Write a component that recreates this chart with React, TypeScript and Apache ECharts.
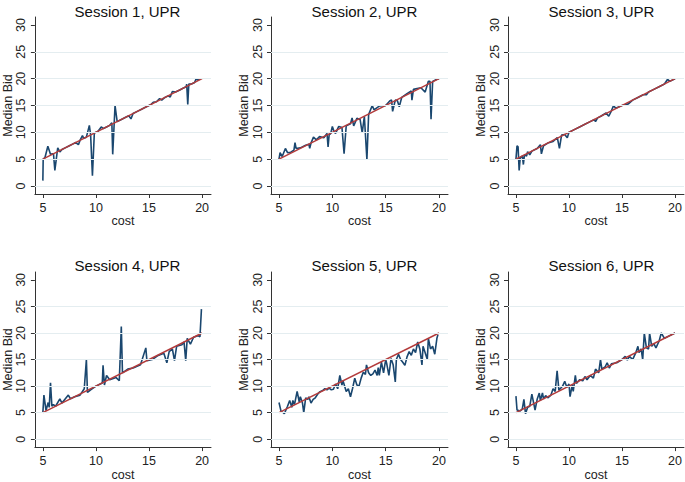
import React, { useEffect, useRef } from 'react';
import * as echarts from 'echarts';

const sessionTitles = ['Session 1, UPR', 'Session 2, UPR', 'Session 3, UPR', 'Session 4, UPR', 'Session 5, UPR', 'Session 6, UPR'];

const s1Cost = [5.0, 5.03, 5.2, 5.47, 5.72, 5.9, 6.0, 6.13, 6.4, 6.6, 6.8, 7.1, 7.5, 7.8, 8.1, 8.35, 8.5, 8.73, 8.85, 9.1, 9.38, 9.5, 9.67, 9.85, 10.2, 10.5, 10.7, 11.0, 11.3, 11.5, 11.58, 11.8, 12.0, 12.4, 12.8, 13.1, 13.3, 13.5, 13.9, 14.3, 14.8, 15.2, 15.4, 15.7, 16.0, 16.2, 16.5, 16.8, 17.0, 17.2, 17.5, 17.9, 18.2, 18.5, 18.55, 18.65, 18.75, 19.0, 19.3, 19.45, 19.6, 19.8, 19.9];
const s1Bid = [1.0, 5.0, 5.3, 7.4, 5.9, 6.0, 6.0, 2.9, 7.1, 6.35, 6.8, 7.1, 7.5, 7.8, 8.1, 7.7, 8.5, 9.4, 8.9, 9.1, 11.3, 9.5, 1.9, 9.9, 10.2, 11.0, 10.7, 11.0, 11.3, 11.8, 5.9, 15.0, 12.0, 12.4, 12.8, 13.1, 12.5, 13.5, 13.9, 14.3, 14.8, 15.2, 15.6, 15.7, 16.3, 16.0, 16.5, 16.8, 16.6, 17.6, 17.5, 17.9, 18.2, 18.5, 19.0, 15.2, 19.0, 19.0, 19.3, 20.0, 19.7, 20.0, 19.9];

const s2Cost = [5.0, 5.1, 5.3, 5.6, 5.8, 6.1, 6.4, 6.5, 6.6, 7.0, 7.5, 7.8, 7.88, 8.0, 8.23, 8.5, 8.8, 9.2, 9.5, 9.6, 9.7, 9.85, 10.0, 10.15, 10.3, 10.6, 10.9, 11.1, 11.3, 11.7, 11.85, 12.0, 12.3, 12.6, 12.8, 13.0, 13.24, 13.4, 13.74, 13.9, 14.4, 15.0, 15.4, 15.55, 15.65, 15.9, 16.1, 16.27, 16.5, 17.0, 17.4, 17.46, 17.6, 18.3, 18.7, 19.0, 19.15, 19.25, 19.4, 19.8, 20.0];
const s2Bid = [5.0, 6.2, 5.5, 7.0, 6.2, 6.3, 6.7, 8.1, 7.0, 7.1, 7.6, 7.8, 7.0, 8.0, 9.1, 8.6, 9.2, 9.0, 9.8, 7.3, 9.5, 9.8, 11.1, 10.2, 9.8, 11.1, 10.9, 6.0, 11.2, 11.6, 12.7, 11.2, 12.6, 12.4, 9.9, 13.0, 4.9, 13.3, 15.0, 14.2, 14.9, 15.0, 15.9, 16.0, 13.9, 16.0, 15.9, 14.75, 16.5, 17.2, 17.7, 16.0, 18.0, 18.3, 17.5, 19.5, 19.5, 12.45, 19.5, 19.9, 20.0];

const s3Cost = [5.0, 5.1, 5.2, 5.3, 5.4, 5.6, 5.7, 5.8, 6.0, 6.1, 6.3, 6.5, 7.0, 7.3, 7.4, 7.6, 8.0, 8.5, 8.9, 9.1, 9.3, 9.6, 9.84, 10.0, 10.5, 11.0, 11.5, 12.0, 12.4, 12.5, 12.7, 13.0, 13.5, 13.75, 14.0, 14.2, 14.4, 15.0, 15.6, 16.0, 16.5, 17.0, 17.3, 17.5, 18.0, 18.5, 19.0, 19.3, 19.5, 20.0];
const s3Bid = [5.0, 7.5, 7.3, 2.9, 5.2, 5.6, 4.0, 5.8, 5.6, 6.4, 5.8, 6.5, 7.0, 7.7, 6.0, 7.5, 8.0, 8.3, 9.0, 7.0, 9.5, 9.6, 9.0, 10.0, 10.5, 11.0, 11.5, 12.0, 12.4, 12.0, 12.7, 13.0, 13.6, 13.0, 14.0, 15.0, 14.5, 15.0, 15.3, 16.0, 16.5, 17.0, 17.0, 17.5, 18.0, 18.5, 19.0, 19.9, 19.5, 20.0];

const s4Cost = [5.0, 5.1, 5.3, 5.5, 5.6, 5.72, 5.85, 6.0, 6.2, 6.6, 6.8, 7.4, 7.6, 8.0, 8.5, 8.9, 9.1, 9.2, 9.5, 10.0, 10.6, 10.67, 10.8, 11.0, 11.3, 11.9, 12.2, 12.39, 12.5, 13.0, 13.5, 14.2, 14.7, 14.8, 15.3, 15.8, 16.4, 16.68, 16.9, 17.2, 17.4, 17.6, 18.1, 18.3, 18.46, 18.6, 18.9, 19.2, 19.6, 19.8, 19.94];
const s4Bid = [5.0, 8.3, 5.4, 6.9, 6.0, 10.6, 6.2, 6.5, 6.2, 7.6, 6.8, 8.3, 7.6, 8.0, 8.3, 9.5, 15.0, 8.8, 9.3, 10.0, 10.6, 13.9, 10.2, 12.0, 11.2, 11.6, 11.0, 21.2, 12.5, 13.2, 13.4, 14.0, 17.2, 14.8, 15.0, 15.7, 16.2, 14.4, 16.5, 17.0, 14.8, 17.5, 17.8, 18.3, 14.8, 19.0, 17.9, 19.2, 19.5, 19.3, 24.5];

const s5Cost = [5.0, 5.2, 5.4, 5.5, 5.8, 6.0, 6.2, 6.3, 6.45, 6.7, 6.9, 7.0, 7.2, 7.32, 7.5, 7.7, 7.8, 8.0, 8.2, 8.4, 8.6, 8.8, 9.1, 9.3, 9.5, 9.7, 9.9, 10.1, 10.3, 10.5, 10.7, 10.9, 11.0, 11.3, 11.5, 11.7, 11.9, 12.1, 12.3, 12.5, 12.7, 12.9, 13.1, 13.2, 13.4, 13.6, 13.8, 14.0, 14.2, 14.3, 14.4, 14.6, 14.8, 15.0, 15.1, 15.3, 15.5, 15.7, 15.9, 16.0, 16.2, 16.4, 16.6, 16.8, 17.0, 17.2, 17.4, 17.6, 17.8, 18.0, 18.2, 18.4, 18.5, 18.7, 18.9, 19.0, 19.2, 19.4, 19.6, 19.8, 19.9];
const s5Bid = [6.9, 5.2, 5.0, 4.8, 6.2, 7.3, 6.0, 7.3, 6.5, 9.0, 7.0, 8.0, 6.8, 5.0, 7.8, 7.5, 8.0, 6.8, 7.5, 7.8, 8.4, 8.9, 9.2, 9.5, 9.3, 9.6, 9.3, 9.4, 10.4, 9.5, 12.0, 10.2, 11.0, 9.0, 9.5, 8.0, 9.6, 11.5, 10.2, 10.0, 11.5, 12.6, 12.2, 14.0, 12.5, 12.0, 12.3, 13.0, 12.0, 13.5, 12.0, 14.5, 12.5, 15.0, 14.2, 12.0, 15.2, 14.0, 10.8, 15.0, 16.0, 15.0, 14.5, 13.9, 15.5, 16.5, 15.8, 17.0, 16.3, 18.3, 17.0, 14.0, 17.5, 16.3, 15.0, 19.0, 17.0, 17.5, 16.0, 19.0, 19.7];

const s6Cost = [5.0, 5.1, 5.4, 5.6, 5.75, 5.9, 6.1, 6.3, 6.5, 6.7, 6.8, 7.0, 7.2, 7.3, 7.5, 7.6, 7.8, 8.0, 8.3, 8.5, 8.7, 8.88, 9.05, 9.4, 9.6, 9.8, 10.0, 10.1, 10.3, 10.4, 10.6, 10.7, 11.0, 11.3, 11.5, 11.7, 12.0, 12.3, 12.5, 12.8, 12.97, 13.1, 13.4, 13.6, 13.8, 14.0, 14.5, 15.0, 15.3, 15.5, 15.7, 16.0, 16.3, 16.5, 16.6, 16.8, 16.95, 17.1, 17.3, 17.5, 17.6, 17.8, 18.0, 18.2, 18.5, 18.7, 19.0, 19.5, 20.0];
const s6Bid = [8.1, 5.5, 5.3, 5.7, 7.5, 4.8, 6.0, 6.2, 8.5, 6.5, 5.5, 7.5, 8.7, 7.3, 8.7, 7.6, 8.2, 7.8, 8.3, 9.5, 9.0, 12.9, 9.2, 10.0, 10.9, 9.8, 10.4, 8.0, 10.2, 9.0, 12.0, 10.5, 11.2, 11.0, 11.8, 11.2, 12.0, 11.5, 13.2, 12.5, 15.0, 13.2, 13.6, 14.4, 13.4, 14.2, 14.4, 15.0, 15.6, 14.9, 15.6, 15.0, 16.3, 17.5, 16.3, 17.0, 15.0, 20.0, 17.2, 17.0, 20.0, 17.5, 18.0, 17.2, 18.5, 20.0, 19.0, 19.5, 20.0];

const fitCost = [5, 20];
const fitBid = [5, 20];

const xTicks = [5, 10, 15, 20];
const yTicks = [0, 5, 10, 15, 20, 25, 30];
const gridValues = [0, 5, 10, 15, 20, 25];

export default function App() {
  const ref = useRef<HTMLDivElement>(null);
  useEffect(() => {
    document.body.style.margin = '0';
    const chart = echarts.init(ref.current!, null, { renderer: 'svg' });
    const sessions = [
      [s1Cost, s1Bid], [s2Cost, s2Bid], [s3Cost, s3Bid],
      [s4Cost, s4Bid], [s5Cost, s5Bid], [s6Cost, s6Bid],
    ];
    const font = "'Liberation Sans', Arial, sans-serif";
    const colLeft = [34, 271, 508];
    const rowTop = [17, 272];
    const gw = 177;
    const gh = 177;
    const grids: any[] = [];
    const xAxes: any[] = [];
    const yAxes: any[] = [];
    const titles: any[] = [];
    const series: any[] = [];
    sessions.forEach((s, i) => {
      const col = i % 3;
      const row = Math.floor(i / 3);
      const left = colLeft[col];
      const top = rowTop[row];
      grids.push({ left, top, width: col === 2 ? gw - 1 : gw, height: gh - (row === 1 ? 1 : 0) });
      titles.push({
        text: sessionTitles[i],
        left: left + gw / 2,
        top: row === 0 ? -1 : 253,
        textAlign: 'center',
        textStyle: { fontFamily: font, fontSize: 15, fontWeight: 'normal', color: '#111' },
      });
      xAxes.push({
        type: 'value', gridIndex: i, min: 4.25, max: 20.84,
        name: 'cost', nameLocation: 'middle', nameGap: 20,
        nameTextStyle: { fontFamily: font, fontSize: 12.5, color: '#222' },
        axisLine: { show: true, onZero: false, lineStyle: { color: '#333', width: 1 } },
        axisTick: { show: true, customValues: xTicks, length: 4, lineStyle: { color: '#333' } },
        axisLabel: { customValues: xTicks, margin: 7, fontFamily: font, fontSize: 12.5, color: '#222' },
        splitLine: { show: false },
      });
      yAxes.push({
        type: 'value', gridIndex: i, min: -1.49, max: 31.49,
        name: 'Median Bid', nameLocation: 'middle', nameGap: 20,
        nameTextStyle: { fontFamily: font, fontSize: 12.5, color: '#222' },
        axisLine: { show: true, onZero: false, lineStyle: { color: '#333', width: 1 } },
        axisTick: { show: true, customValues: yTicks, length: 4, lineStyle: { color: '#333' } },
        axisLabel: { customValues: yTicks, rotate: 90, margin: 7, fontFamily: font, fontSize: 12.5, color: '#222' },
        splitLine: { show: false },
      });
      series.push({
        type: 'line', xAxisIndex: i, yAxisIndex: i, data: [], silent: true, z: 1,
        markLine: {
          silent: true, symbol: ['none', 'none'], label: { show: false },
          lineStyle: { color: '#e4edf0', width: 1, type: 'solid' },
          data: gridValues.map((v) => ({ yAxis: v })),
        },
      });
      series.push({
        type: 'line', xAxisIndex: i, yAxisIndex: i, z: 3,
        data: s[0].map((c, k) => [c, s[1][k]]),
        showSymbol: false, symbol: 'none',
        lineStyle: { color: '#1a476f', width: 1.6 },
      });
      series.push({
        type: 'line', xAxisIndex: i, yAxisIndex: i, z: 4,
        data: fitCost.map((c, k) => [c, fitBid[k]]),
        showSymbol: false, symbol: 'none',
        lineStyle: { color: '#b33b3b', width: 1.5 },
      });
    });
    chart.setOption({
      animation: false,
      backgroundColor: '#ffffff',
      title: titles,
      grid: grids,
      xAxis: xAxes,
      yAxis: yAxes,
      series,
    });
    return () => chart.dispose();
  }, []);
  return <div ref={ref} style={{ width: 685, height: 482 }} />;
}
